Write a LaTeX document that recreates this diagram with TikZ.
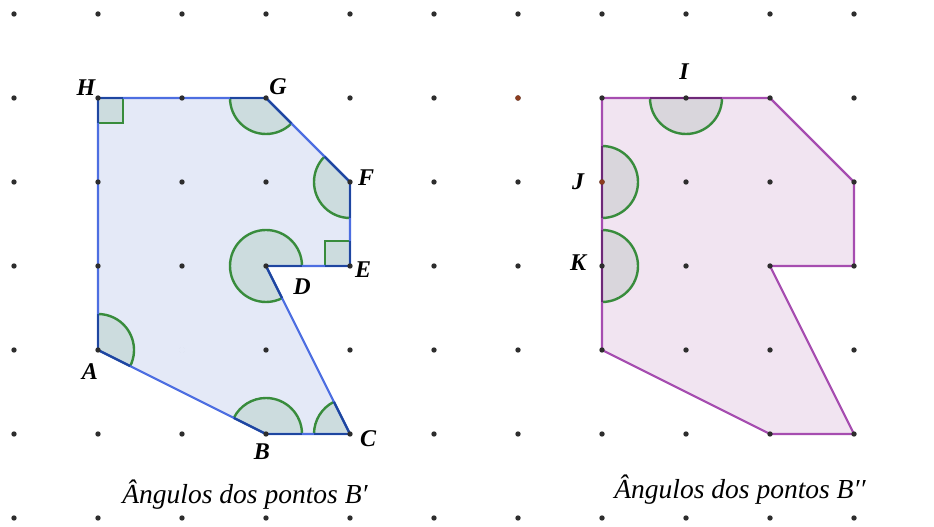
\documentclass[tikz,border=0pt]{standalone}
\usepackage{fontspec}
\setmainfont{Liberation Serif}
\definecolor{dotc}{RGB}{45,45,45}
\definecolor{dotr}{RGB}{140,60,30}
\definecolor{bedge}{RGB}{77,110,225}
\definecolor{bfill}{RGB}{228,233,247}
\definecolor{bdark}{RGB}{30,70,160}
\definecolor{bmark}{RGB}{204,220,222}
\definecolor{pedge}{RGB}{166,77,176}
\definecolor{pfill}{RGB}{241,228,241}
\definecolor{pdark}{RGB}{110,40,120}
\definecolor{pmark}{RGB}{217,214,220}
\definecolor{angc}{RGB}{56,140,60}
\tikzset{
  lbl/.style={font=\fontsize{24}{26}\selectfont\bfseries\itshape, inner sep=0pt},
  captxt/.style={font=\fontsize{27.5}{30}\selectfont\itshape, inner sep=0pt},
  arcline/.style={draw=angc, line width=2.4pt},
}
\newcommand{\sectorB}[4]{% vertex, start, end, radius
  \fill[bmark] (#1) -- ++(#2:#4) arc[start angle=#2, end angle=#3, radius=#4] -- cycle;
  \draw[arcline] (#1) ++(#2:#4) arc[start angle=#2, end angle=#3, radius=#4];
}
\newcommand{\sectorP}[4]{%
  \fill[pmark] (#1) -- ++(#2:#4) arc[start angle=#2, end angle=#3, radius=#4] -- cycle;
  \draw[arcline] (#1) ++(#2:#4) arc[start angle=#2, end angle=#3, radius=#4];
}
\begin{document}
\begin{tikzpicture}[x=1pt,y=1pt]
\useasboundingbox (0,0) rectangle (934,527);
% left polygon vertices
\coordinate (H) at (98,429);
\coordinate (G) at (266,429);
\coordinate (F) at (350,345);
\coordinate (E) at (350,261);
\coordinate (D) at (266,261);
\coordinate (C) at (350,93);
\coordinate (B) at (266,93);
\coordinate (A) at (98,177);
% right polygon vertices
\coordinate (H2) at (602,429);
\coordinate (G2) at (770,429);
\coordinate (F2) at (854,345);
\coordinate (E2) at (854,261);
\coordinate (D2) at (770,261);
\coordinate (C2) at (854,93);
\coordinate (B2) at (770,93);
\coordinate (A2) at (602,177);
\coordinate (I) at (686,429);
\coordinate (J) at (602,345);
\coordinate (K) at (602,261);

% fills
\fill[bfill] (H) -- (G) -- (F) -- (E) -- (D) -- (C) -- (B) -- (A) -- cycle;
\fill[pfill] (H2) -- (G2) -- (F2) -- (E2) -- (D2) -- (C2) -- (B2) -- (A2) -- cycle;

% left angle markers
\fill[bmark] (H) rectangle ++(25,-25);
\fill[bmark] (E) rectangle ++(-25,25);
\sectorB{G}{180}{315}{36}
\sectorB{F}{135}{270}{36}
\sectorB{D}{0}{296.57}{36}
\sectorB{C}{116.57}{180}{36}
\sectorB{B}{0}{153.43}{36}
\sectorB{A}{-26.57}{90}{36}
\draw[arcline] (H) ++(25,0) -- ++(0,-25) -- ++(-25,0);
\draw[arcline] (E) ++(-25,0) -- ++(0,25) -- ++(25,0);

% right angle markers
\sectorP{I}{180}{360}{36}
\sectorP{J}{-90}{90}{36}
\sectorP{K}{-90}{90}{36}

% polygon outlines
\draw[bedge, line width=2.2pt, line join=round] (H) -- (G) -- (F) -- (E) -- (D) -- (C) -- (B) -- (A) -- cycle;
\draw[pedge, line width=2.2pt, line join=round] (H2) -- (G2) -- (F2) -- (E2) -- (D2) -- (C2) -- (B2) -- (A2) -- cycle;

% dark overlay on marker rays (left)
\begin{scope}[bdark, line width=2.4pt]
\draw (H) -- ++(25,0); \draw (H) -- ++(0,-25);
\draw (E) -- ++(-25,0); \draw (E) -- ++(0,25);
\draw (G) -- ++(180:36); \draw (G) -- ++(315:36);
\draw (F) -- ++(135:36); \draw (F) -- ++(270:36);
\draw (D) -- ++(0:36); \draw (D) -- ++(296.57:36);
\draw (C) -- ++(116.57:36); \draw (C) -- ++(180:36);
\draw (B) -- ++(0:36); \draw (B) -- ++(153.43:36);
\draw (A) -- ++(-26.57:36); \draw (A) -- ++(90:36);
\end{scope}
% dark overlay (right)
\begin{scope}[pdark, line width=2.4pt]
\draw (I) ++(-36,0) -- ++(72,0);
\draw (J) ++(0,-36) -- ++(0,72);
\draw (K) ++(0,-36) -- ++(0,72);
\end{scope}

% grid dots
\foreach \i in {0,...,11} {
  \foreach \j in {0,...,6} {
    \pgfmathsetmacro{\px}{14+84*\i}
    \pgfmathsetmacro{\py}{513-84*\j}
    \fill[dotc] (\px,\py) circle[radius=2.7];
  }
}
% missing dot at (182,350)
\fill[bfill] (182,177) circle[radius=3.4];
\fill[dotr] (518,429) circle[radius=2.7];
\fill[dotr] (J) circle[radius=2.7];

% labels
\node[lbl] (lH) at (86,439) {H};
\node[lbl] (lG) at (278,440) {G};
\node[lbl] (lF) at (366,349) {F};
\node[lbl] (lE) at (363,257) {E};
\node[lbl] (lD) at (302,240) {D};
\node[lbl] (lA) at (90,155) {A};
\node[lbl] (lB) at (262,75) {B};
\node[lbl] (lC) at (368,88) {C};
\node[lbl] (lI) at (684,455) {I};
\node[lbl] (lJ) at (578,345) {J};
\node[lbl] (lK) at (578,264) {K};

\node[captxt] (cap1) at (245,32) {Ângulos dos pontos B′};
\node[captxt] (cap2) at (740,37) {Ângulos dos pontos B′′};
\end{tikzpicture}
\end{document}
